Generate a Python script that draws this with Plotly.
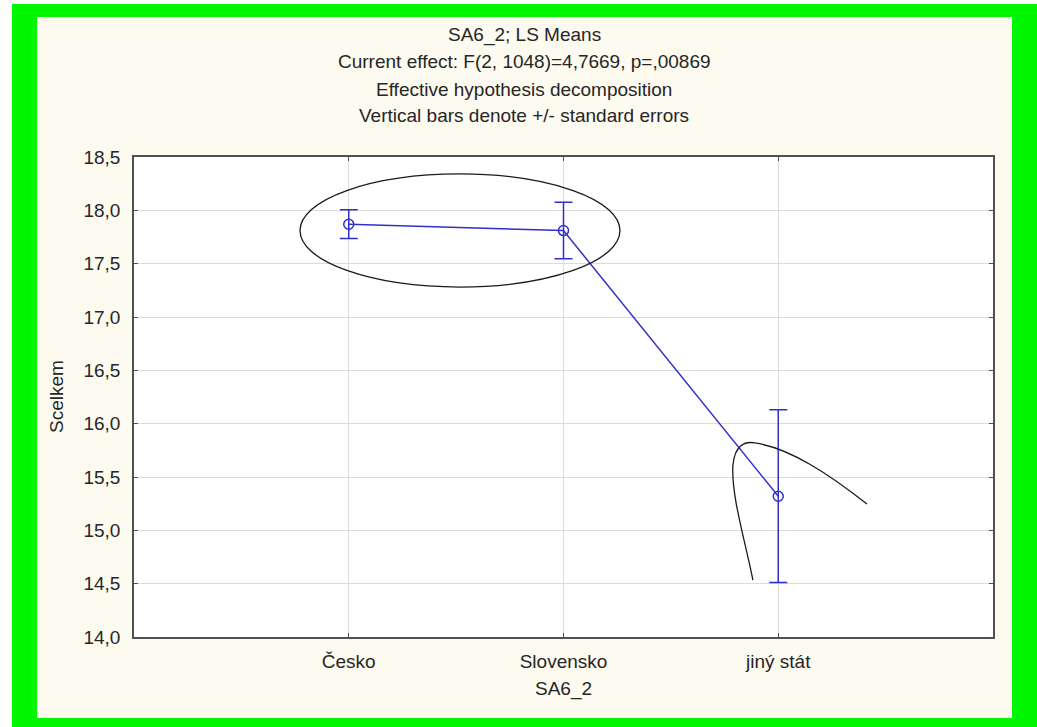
import plotly.graph_objects as go

# LS means of "Scelkem" by country of origin (SA6_2), with standard errors
categories = ["Česko", "Slovensko", "jiný stát"]
ls_means = [17.87, 17.81, 15.32]
std_errors = [0.135, 0.265, 0.81]

title_lines = [
    "SA6_2; LS Means",
    "Current effect: F(2, 1048)=4,7669, p=,00869",
    "Effective hypothesis decomposition",
    "Vertical bars denote +/- standard errors",
]
y_ticks = [14.0, 14.5, 15.0, 15.5, 16.0, 16.5, 17.0, 17.5, 18.0, 18.5]

W, H = 1037, 727
ML, MR, MT, MB = 134, 44, 157, 90
PW, PH = W - ML - MR, H - MT - MB

FONT = "Liberation Sans, Arial, sans-serif"
TXT = "#262626"
BLUE = "#3030C8"
GREEN = "#00F700"
CREAM = "#FDFAF0"
FS = 19


def xp(px):
    return (px - ML) / PW


def yp(py):
    return (H - MB - py) / PH


xpos = list(range(1, len(categories) + 1))

fig = go.Figure()
fig.add_trace(go.Scatter(
    x=xpos, y=ls_means, mode="lines+markers",
    line=dict(color=BLUE, width=1.5),
    marker=dict(symbol="circle-open", size=10, color=BLUE, line=dict(width=1.5)),
    error_y=dict(type="data", array=std_errors, visible=True,
                 color=BLUE, thickness=1.5, width=9),
    showlegend=False, hoverinfo="skip",
))

shapes = [
    # green frame and cream panel
    dict(type="rect", xref="paper", yref="paper", x0=xp(12), x1=xp(1037),
         y0=yp(727), y1=yp(4), fillcolor=GREEN, line=dict(width=0), layer="below"),
    dict(type="rect", xref="paper", yref="paper", x0=xp(37), x1=xp(1012),
         y0=yp(718), y1=yp(17), fillcolor=CREAM, line=dict(width=0), layer="below"),
    dict(type="rect", xref="paper", yref="paper", x0=0, x1=1, y0=0, y1=1,
         fillcolor="white", line=dict(width=0), layer="below"),
    # hand-drawn highlights
    dict(type="circle", xref="x", yref="y", x0=0.773, x1=2.263, y0=17.281, y1=18.341,
         line=dict(color="#1a1a1a", width=1.3), layer="above"),
    dict(type="path", xref="x", yref="y",
         path=("M 2.882,14.534 C 2.845,14.909 2.780,15.331 2.789,15.613 "
               "C 2.798,15.800 2.845,15.838 2.892,15.819 "
               "C 3.055,15.772 3.241,15.519 3.413,15.247"),
         line=dict(color="#1a1a1a", width=1.3), layer="above"),
]

annotations = []
for i, line in enumerate(title_lines):
    annotations.append(dict(
        text=line, xref="paper", yref="paper", x=xp(524), y=yp(35 + 27 * i),
        xanchor="center", yanchor="middle", showarrow=False,
        font=dict(family=FONT, size=FS, color=TXT)))
annotations.append(dict(
    text="SA6_2", xref="paper", yref="paper", x=xp(563), y=yp(689),
    xanchor="center", yanchor="middle", showarrow=False,
    font=dict(family=FONT, size=FS, color=TXT)))
annotations.append(dict(
    text="Scelkem", xref="paper", yref="paper", x=xp(56), y=0.5, textangle=-90,
    xanchor="center", yanchor="middle", showarrow=False,
    font=dict(family=FONT, size=FS, color=TXT)))

fig.update_layout(
    width=W, height=H,
    margin=dict(l=ML, r=MR, t=MT, b=MB, pad=0),
    paper_bgcolor="white", plot_bgcolor="white",
    separators=", ",
    shapes=shapes, annotations=annotations,
    font=dict(family=FONT, size=FS, color=TXT),
    xaxis=dict(range=[0, 4], tickvals=xpos, ticktext=categories,
               showgrid=True, gridcolor="#DCDCDC", gridwidth=1,
               showline=True, linecolor="#505050", linewidth=1.5, mirror="ticks",
               ticks="inside", ticklen=4, tickcolor="#505050",
               zeroline=False, tickfont=dict(size=FS), ticklabelstandoff=6),
    yaxis=dict(range=[14.0, 18.5], tickvals=y_ticks, tickformat=".1f",
               showgrid=True, gridcolor="#DCDCDC", gridwidth=1,
               showline=True, linecolor="#505050", linewidth=1.5, mirror="ticks",
               ticks="inside", ticklen=4, tickcolor="#505050",
               zeroline=False, tickfont=dict(size=FS), ticklabelstandoff=8),
)

fig.write_html("out.html")
